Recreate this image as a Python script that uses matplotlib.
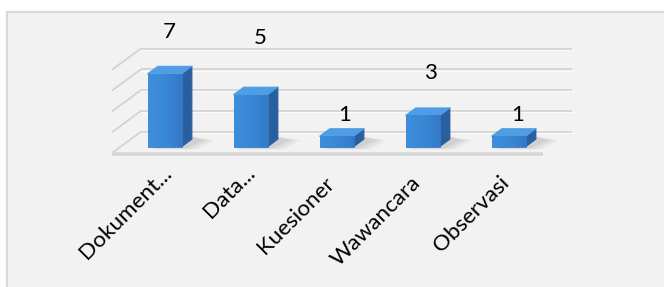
import matplotlib
matplotlib.use("Agg")
import matplotlib.pyplot as plt
from matplotlib.patches import Polygon, Rectangle
from matplotlib.colors import LinearSegmentedColormap
import numpy as np

# ---- data ----
categories = ["Dokument...", "Data...", "Kuesioner", "Wawancara", "Observasi"]
values = [7, 5, 1, 3, 1]
gridline_values = [0, 2, 4, 6, 8]

# ---- layout / style (not data) ----
label_dx = [0.15, 0.217, 0.198, 0.186, 0.206]      # data label x shift (category units)
label_dy = [4.63, 6.03, 2.65, 4.66, 2.65]          # data label y shift (value units)
cat_anchor_dx = [0.20, 0.17, 0.085, 0.093, 0.12]
cat_anchor_y = [-2.02, -2.02, -3.05, -2.98, -2.95]

DEPTH_X = 0.337   # oblique depth offset, category units
DEPTH_Y = 2.048   # oblique depth offset, value units
BAR_W = 0.396
D0, D1 = 0.30, 0.65
FLOOR_L, FLOOR_R = -0.512, 4.5

FONT = "Lato"

fig = plt.figure(figsize=(6.64, 2.87), dpi=100, facecolor="white")
ax = fig.add_axes([0, 0, 1, 1])
ax.set_xlim(-1.814, 5.907)
ax.set_ylim(-12.885, 14.712)
ax.axis("off")

# chart area background
ax.add_patch(Rectangle((7 / 664, -0.05), 1.1, 1 - 12 / 287 + 0.05,
                       transform=ax.transAxes, facecolor="#f2f2f2",
                       edgecolor="#d9d9d9", lw=1.6, zorder=0, clip_on=False))

def off(x, y, d):
    return x + d * DEPTH_X, y + d * DEPTH_Y

grid_c = "#d3d3d3"
# back wall gridlines and left wall lines
for g in gridline_values:
    bx0, by0 = off(FLOOR_L, g, 1)
    bx1, by1 = off(FLOOR_R, g, 1)
    ax.plot([bx0, bx1], [by0, by1], color=grid_c, lw=1.3, zorder=1, solid_capstyle="butt")
    ax.plot([bx0, FLOOR_L], [by0, g], color=grid_c, lw=1.3, zorder=1, solid_capstyle="butt")
    ax.plot([bx0 + 0.01, bx1], [by0 - 0.12, by1 - 0.12], color="#fbfbfb", lw=0.8, zorder=1)

# floor front edge
ax.plot([FLOOR_L, FLOOR_R], [-0.12, -0.12], color="#d6d6d6", lw=2.6, zorder=1,
        solid_capstyle="butt")

# bars
x = np.arange(len(categories))
side_c = "#2a5f9f"
top_c = "#4f9de4"
front_cmap = LinearSegmentedColormap.from_list(
    "front", ["#3f8edb", "#3b8ad8", "#3883d2", "#3478c4"])
for i, v in enumerate(values):
    xc, yb = off(x[i], 0, D0)
    xl, xr = xc - BAR_W / 2, xc + BAR_W / 2
    dd = D1 - D0
    # shadow on floor
    for k, a in enumerate([0.18, 0.22, 0.3]):
        s = 0.06 * (2 - k)
        sh = Polygon([(xl + 0.05, yb - 0.15 - s), (xr + 0.06 + s, yb - 0.15 - s),
                      (xr + dd * DEPTH_X + 0.14 + s, yb + dd * DEPTH_Y - 0.1),
                      (xr + dd * DEPTH_X + 0.02, yb + dd * DEPTH_Y + 0.2)],
                     closed=True, facecolor="#b5b5b5", edgecolor="none", alpha=a, zorder=2)
        ax.add_patch(sh)
    # side
    side = Polygon([(xr, yb), (xr + dd * DEPTH_X, yb + dd * DEPTH_Y),
                    (xr + dd * DEPTH_X, yb + v + dd * DEPTH_Y), (xr, yb + v)],
                   closed=True, facecolor=side_c, edgecolor=side_c, lw=0.8,
                   joinstyle="round", zorder=3)
    ax.add_patch(side)
    # top
    top = Polygon([(xl, yb + v), (xr, yb + v),
                   (xr + dd * DEPTH_X, yb + v + dd * DEPTH_Y),
                   (xl + dd * DEPTH_X, yb + v + dd * DEPTH_Y)],
                  closed=True, facecolor=top_c, edgecolor=top_c, lw=0.8,
                  joinstyle="round", zorder=3)
    ax.add_patch(top)

bars = ax.bar(x + D0 * DEPTH_X, values, width=BAR_W, bottom=D0 * DEPTH_Y,
              color="#3a87d5", edgecolor="#3580cc", lw=0.6, zorder=4)
grad = np.linspace(0, 1, 64).reshape(1, -1)
for b in bars:
    bx, by = b.get_x(), b.get_y()
    im = ax.imshow(grad, cmap=front_cmap, aspect="auto",
                   extent=(bx, bx + b.get_width(), by, by + b.get_height()),
                   zorder=4.5, interpolation="bilinear")
    im.set_clip_path(b)
ax.set_xlim(-1.814, 5.907)
ax.set_ylim(-12.885, 14.712)

# data labels
for i, v in enumerate(values):
    ax.text(x[i] + label_dx[i], v + label_dy[i], str(v), ha="center", va="center",
            fontsize=16, family=FONT, color="black", zorder=5)

# category labels
for i, c in enumerate(categories):
    ax.text(x[i] + cat_anchor_dx[i], cat_anchor_y[i], c, rotation=45,
            rotation_mode="anchor", ha="right", va="baseline",
            fontsize=16.2, family=FONT, color="black", zorder=5)

fig.savefig("out.png", dpi=100, facecolor="white")
